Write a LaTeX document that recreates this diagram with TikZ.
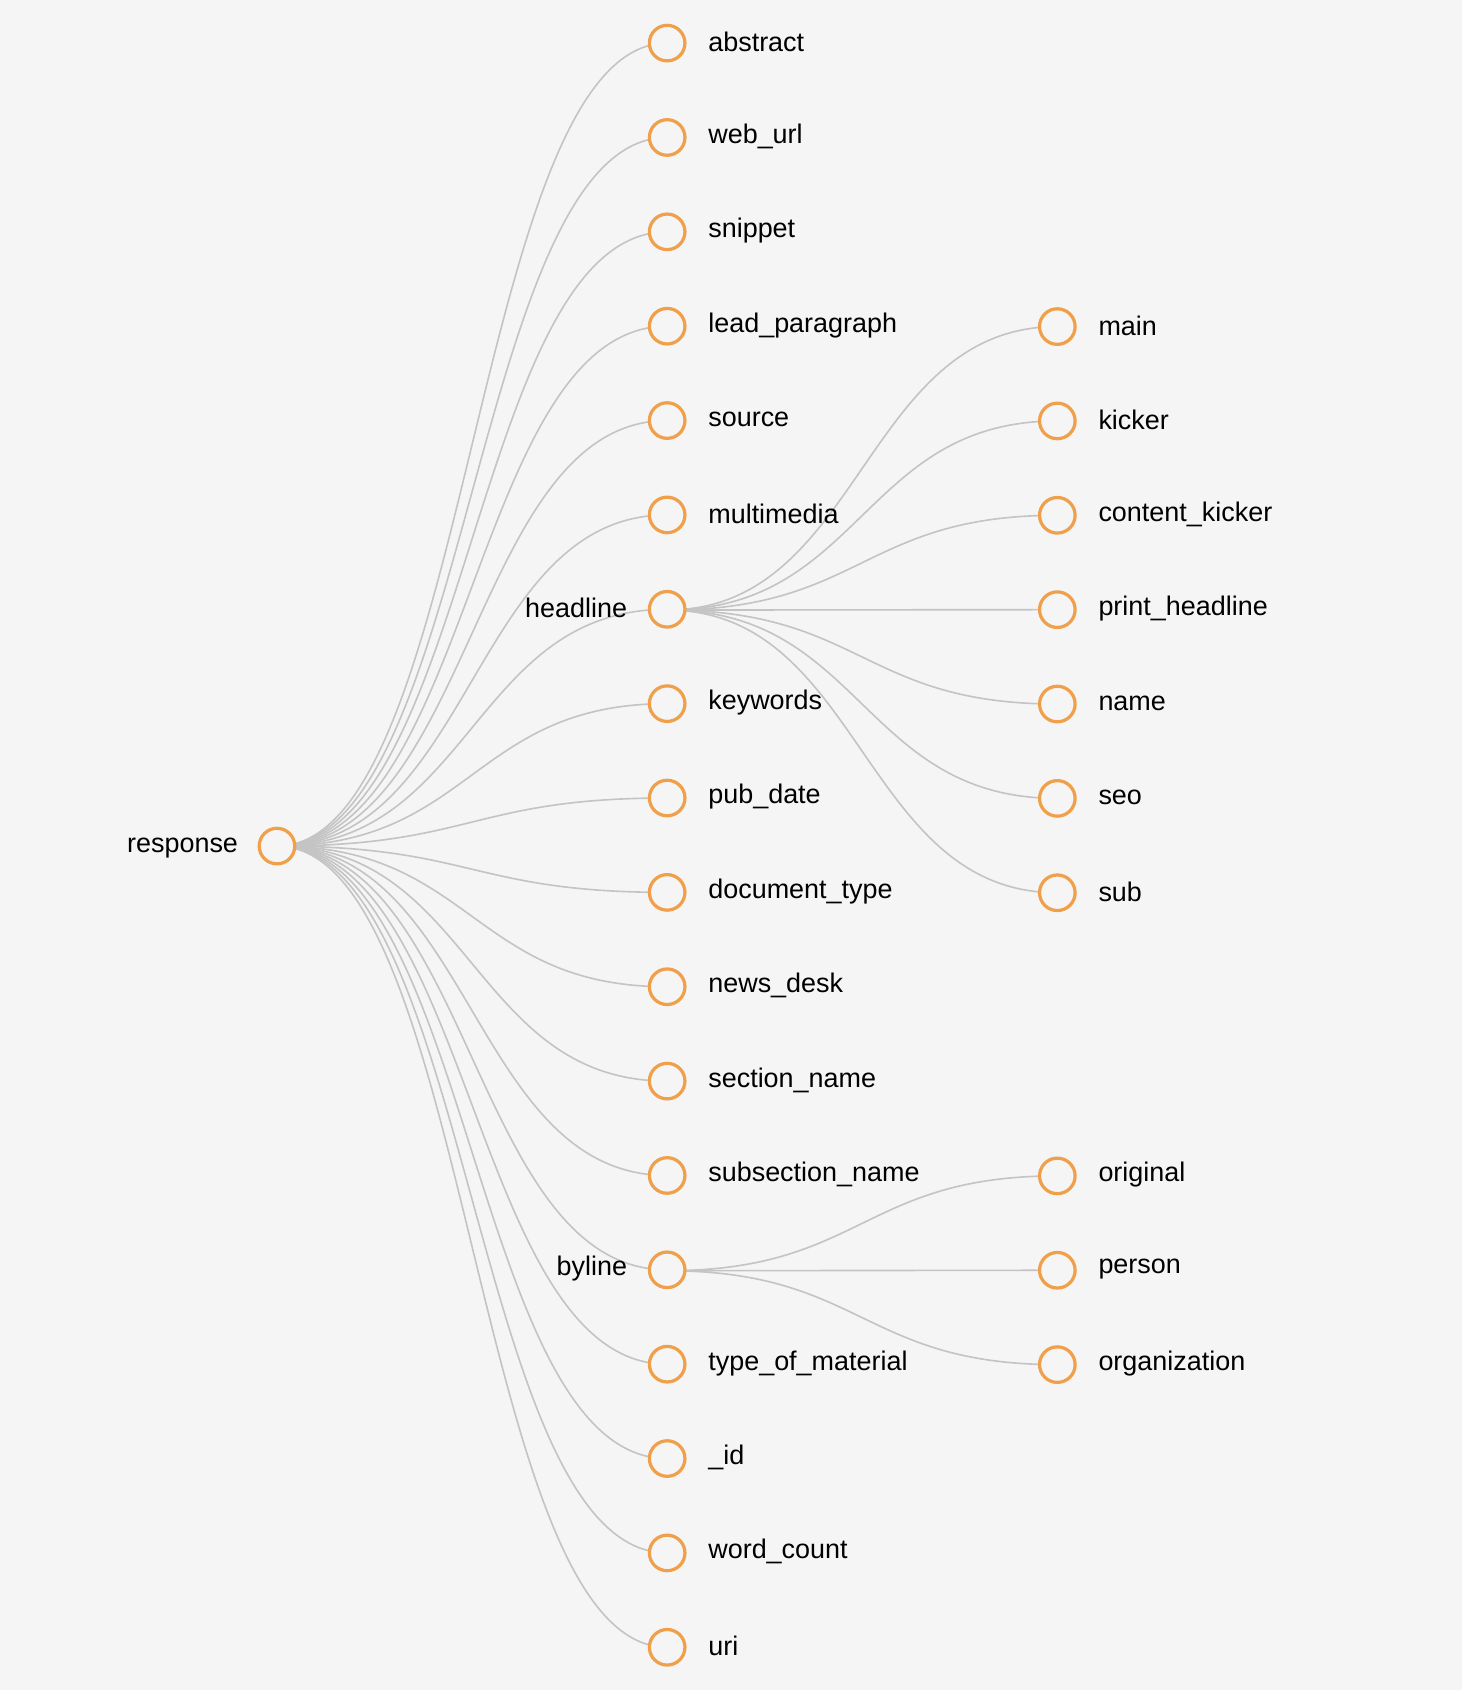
\documentclass[tikz,border=0pt]{standalone}
\usepackage{fontspec}
\setmainfont{Liberation Sans}
\definecolor{bg}{HTML}{F5F5F5}
\definecolor{orng}{HTML}{F0A04B}
\definecolor{lnk}{HTML}{C4C4C4}
\begin{document}
\begin{tikzpicture}[x=1pt,y=-1pt,
  dot/.style={circle,draw=orng,line width=3pt,fill=bg,minimum size=33pt,inner sep=0pt},
  lbl/.style={font=\fontsize{25}{28}\selectfont,text=black,inner sep=0pt},
  link/.style={draw=lnk,line width=1.5pt}]
\fill[bg] (0,0) rectangle (1356,1568);
\useasboundingbox (0,0) rectangle (1356,1568);
\coordinate (r) at (257,785);
\coordinate (h) at (619,566);
\coordinate (b) at (619,1179);
% links from root
\foreach \n [count=\i from 0] in {abstract,web_url,snippet,lead_paragraph,source,multimedia,headline,keywords,pub_date,document_type,news_desk,section_name,subsection_name,byline,type_of_material,_id,word_count,uri}{
  \pgfmathsetmacro{\yy}{40+87.55*\i}
  \coordinate (c\i) at (619,\yy);
  \draw[link] (r) .. controls (438,785) and (438,\yy) .. (c\i);
}
\foreach \n [count=\i from 0] in {main,kicker,content_kicker,print_headline,name,seo,sub}{
  \pgfmathsetmacro{\yy}{303+87.55*\i}
  \coordinate (hc\i) at (981,\yy);
  \draw[link] (h) .. controls (800,566) and (800,\yy) .. (hc\i);
}
\foreach \n [count=\i from 0] in {original,person,organization}{
  \pgfmathsetmacro{\yy}{1091+87.55*\i}
  \coordinate (bc\i) at (981,\yy);
  \draw[link] (b) .. controls (800,1179) and (800,\yy) .. (bc\i);
}
% nodes
\node[dot] (rn) at (r) {};
\node[lbl,anchor=east] (rl) at (221,787) {response};
\foreach \n [count=\i from 0] in {abstract,web_url,snippet,lead_paragraph,source,multimedia,headline,keywords,pub_date,document_type,news_desk,section_name,subsection_name,byline,type_of_material,_id,word_count,uri}{
  \node[dot] (n\i) at (c\i) {};
  \ifnum\i=6
    \node[lbl,anchor=east] (l\i) at ([xshift=-37pt,yshift=1pt]c\i) {\detokenize\expandafter{\n}};
  \else\ifnum\i=13
    \node[lbl,anchor=east] (l\i) at ([xshift=-37pt,yshift=1pt]c\i) {\detokenize\expandafter{\n}};
  \else
    \node[lbl,anchor=west] (l\i) at ([xshift=38pt,yshift=1pt]c\i) {\detokenize\expandafter{\n}};
  \fi\fi
}
\foreach \n [count=\i from 0] in {main,kicker,content_kicker,print_headline,name,seo,sub}{
  \node[dot] (hn\i) at (hc\i) {};
  \node[lbl,anchor=west] (hl\i) at ([xshift=38pt,yshift=1pt]hc\i) {\detokenize\expandafter{\n}};
}
\foreach \n [count=\i from 0] in {original,person,organization}{
  \node[dot] (bn\i) at (bc\i) {};
  \node[lbl,anchor=west] (bl\i) at ([xshift=38pt,yshift=1pt]bc\i) {\detokenize\expandafter{\n}};
}
\end{tikzpicture}
\end{document}
